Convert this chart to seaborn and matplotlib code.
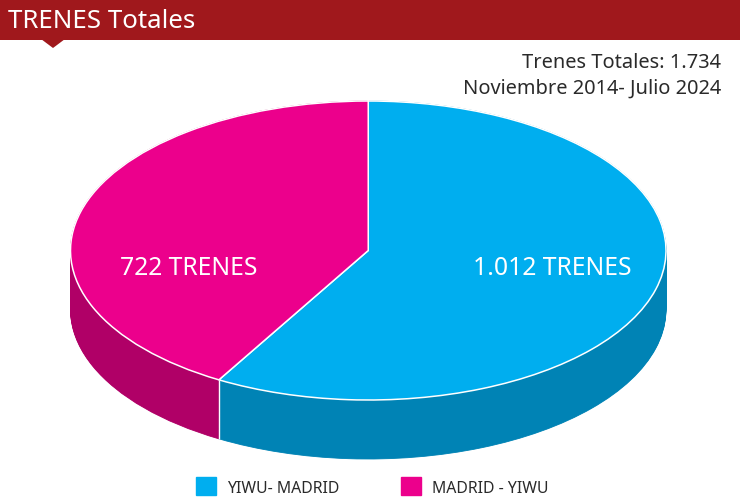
import numpy as np
import seaborn as sns
import matplotlib.pyplot as plt
from matplotlib.patches import Patch, Polygon, Rectangle

# Values
routes = ["YIWU- MADRID", "MADRID - YIWU"]
trains = [1012, 722]
slice_labels = ["1.012 TRENES", "722 TRENES"]
title = "TRENES Totales"
subtitle = ["Trenes Totales: 1.734", "Noviembre 2014- Julio 2024"]

top_colors = ["#00AEEF", "#EC008C"]
wall_colors = ["#0083B5", "#B00067"]

sns.set_theme(style="white")
plt.rcParams["font.family"] = ["Noto Sans", "DejaVu Sans"]

W, H = 740, 502
fig = plt.figure(figsize=(W / 100, H / 100), dpi=100, facecolor="white")

# page layer in pixels, for the header band
page = fig.add_axes([0, 0, 1, 1])
page.set_xlim(0, W)
page.set_ylim(H, 0)
page.axis("off")
page.add_patch(Rectangle((0, 0), W, 40.5, color="#A0181C", lw=0))
page.add_patch(Polygon([[41, 40], [65, 40], [53, 49]], color="#A0181C", lw=0))
page.text(8, 21, title, color="white", fontsize=18.6, va="center", ha="left", fontweight="medium")
page.text(721, 62.5, subtitle[0], color="#2a2a2a", fontsize=14.4, va="center", ha="right")
page.text(721, 88.5, subtitle[1], color="#2a2a2a", fontsize=14.4, va="center", ha="right")

# pie layer: x -1..1 and y -1..1 is the top ellipse, below that the wall
left, right, top, bottom = 70.5, 666, 102, 460
ax = fig.add_axes([left / W, 1 - bottom / H, (right - left) / W, (bottom - top) / H])
ry = 149.5
depth = (bottom - top - 2 * ry) / ry

for off in np.linspace(depth, 0, 70):
    ax.pie(trains, colors=wall_colors, startangle=90, counterclock=False,
           center=(0, -off), wedgeprops={"linewidth": 0.6, "edgecolor": None})
    # same colour rim closes the gaps between the layers
for w in ax.patches:
    w.set_edgecolor(w.get_facecolor())

ang = np.deg2rad(90 - 360 * trains[0] / sum(trains))
ax.plot([np.cos(ang)] * 2, [np.sin(ang), np.sin(ang) - depth], color="white", lw=1, solid_capstyle="butt", zorder=5)

wedges, _ = ax.pie(trains, colors=top_colors, startangle=90, counterclock=False,
                   wedgeprops={"linewidth": 1.1, "edgecolor": "white"})
for w in wedges:
    w.set_zorder(6)

ax.set_aspect("auto")
ax.set_xlim(-1, 1)
ax.set_ylim(-1 - depth, 1)
ax.axis("off")
for p in ax.patches:
    p.set_clip_on(False)

ax.text(0.617, -0.115, slice_labels[0], color="white", fontsize=17.8, ha="center", va="center", zorder=7, fontweight="medium")
ax.text(-0.603, -0.115, slice_labels[1], color="white", fontsize=17.8, ha="center", va="center", zorder=7, fontweight="medium")

# legend
handles = [Patch(color=c, label=r) for c, r in zip(top_colors, routes)]
fig.legend(handles=handles, loc="center", bbox_to_anchor=(372 / W, 1 - 487.5 / H), ncols=2,
           frameon=False, fontsize=11.4, labelcolor="#2a2a2a", handlelength=1.25, handleheight=1.35,
           handletextpad=0.7, columnspacing=3.9)

fig.savefig("out.png", dpi=100)
